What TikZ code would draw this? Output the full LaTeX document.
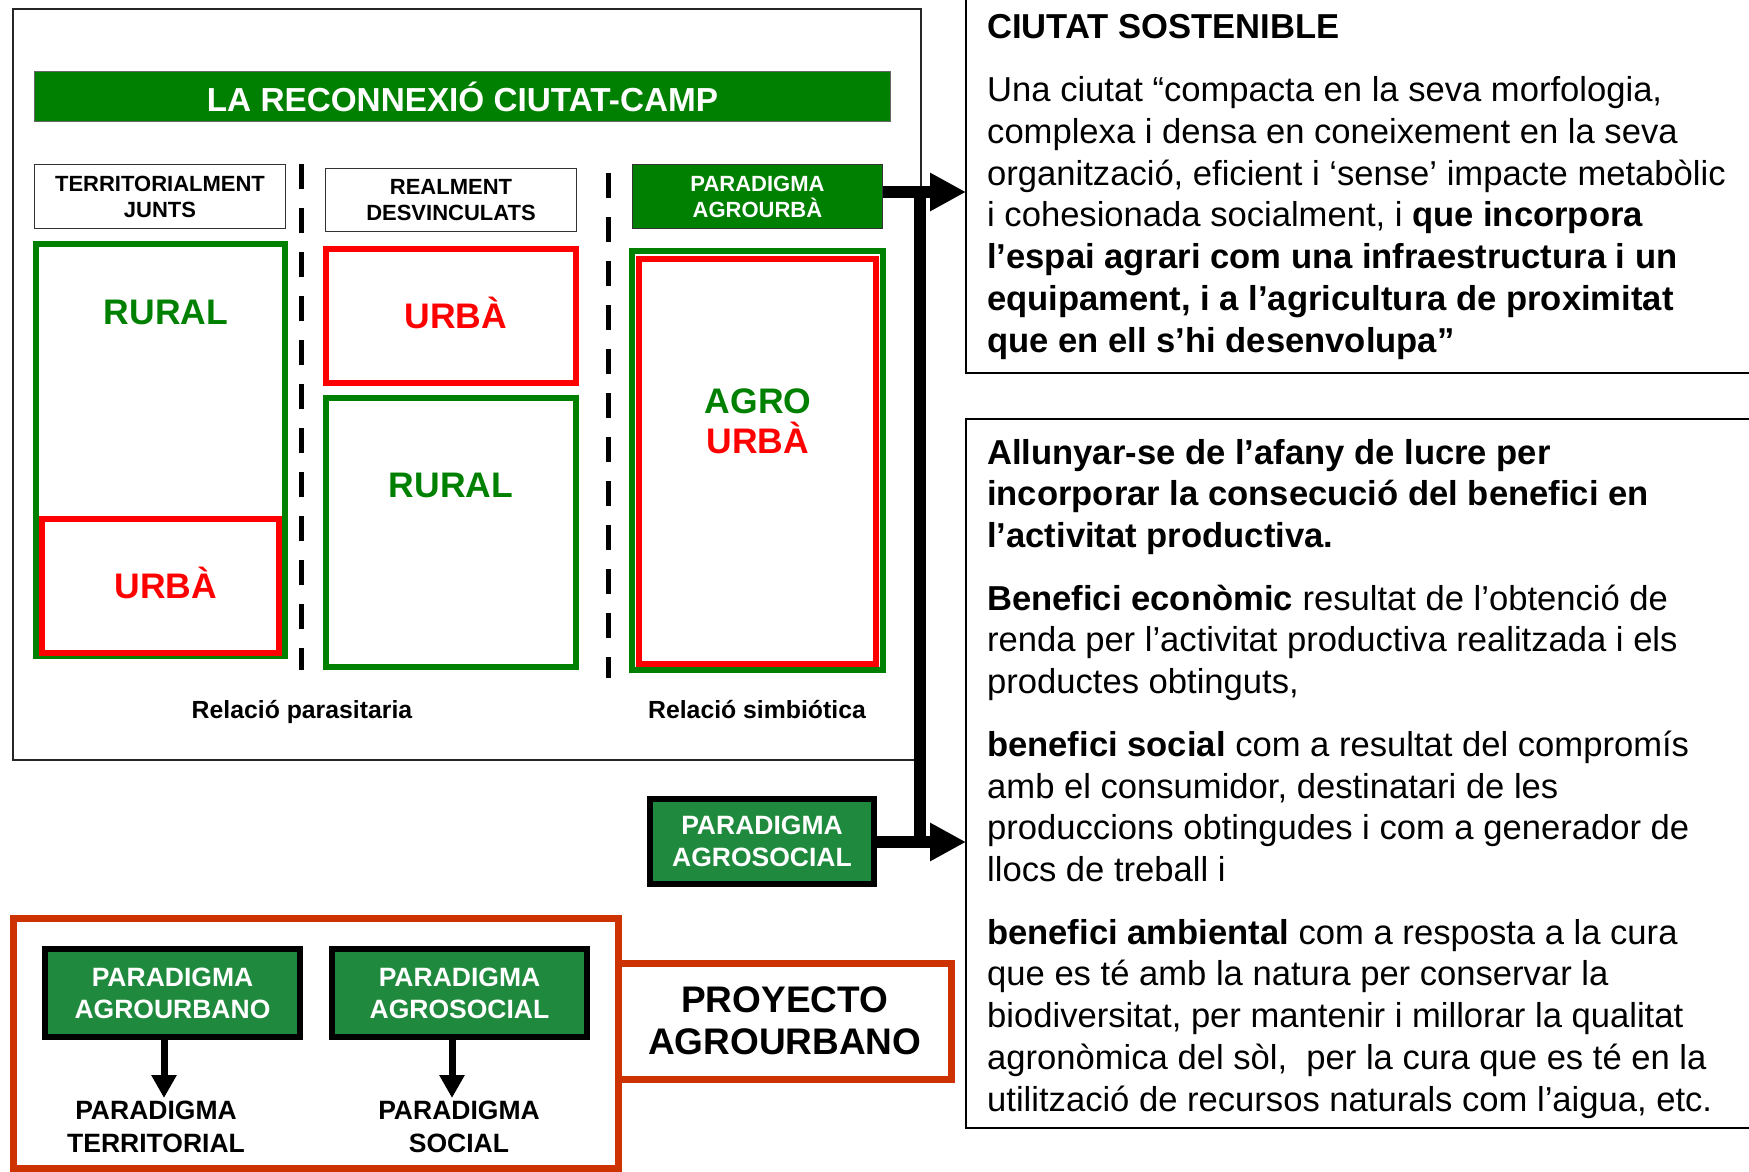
\documentclass[tikz,border=0pt]{standalone}
\usepackage{fontspec}
\setmainfont{Liberation Sans}
\usetikzlibrary{arrows.meta}
\definecolor{tgreen}{RGB}{0,128,0}
\definecolor{pgreen}{RGB}{31,138,61}
\definecolor{ored}{RGB}{204,51,0}
\definecolor{bred}{RGB}{255,0,0}
\newcommand\fsz[2]{\fontsize{#1pt}{#2pt}\selectfont}
\begin{document}
\begin{tikzpicture}[x=1pt,y=-1pt,
  thinbox/.style={draw=black!80, line width=1.5pt, fill=white, inner sep=0pt, align=center, font=\bfseries\fsz{22}{26}},
  greenhead/.style={thinbox, fill=tgreen, text=white},
  gframe/.style={draw=tgreen, line width=6pt, inner sep=0pt},
  rframe/.style={draw=bred, line width=6pt, inner sep=0pt},
  bigword/.style={font=\bfseries\fsz{35.5}{40}, anchor=base, inner sep=0pt},
  relabel/.style={font=\bfseries\fsz{24.8}{28}, anchor=base, inner sep=0pt},
  pbox/.style={fill=pgreen, draw=black, line width=6pt, text=white, inner sep=0pt, align=center, font=\bfseries\fsz{26.5}{32}},
  oframe/.style={draw=ored, line width=7pt, inner sep=0pt},
  plain/.style={font=\bfseries\fsz{26.5}{33}, anchor=base, inner sep=0pt},
  bodytxt/.style={font=\fsz{34.6}{41.8}, anchor=base west, inner sep=0pt},
  textbox/.style={draw=black, line width=2pt, inner sep=0pt},
  conn/.style={draw=black, line width=12pt},
  bigarrow/.style={conn, -{Triangle[length=36pt,width=36pt]}},
  smallarrow/.style={draw=black, line width=7pt, -{Triangle[length=23pt,width=24pt]}},
  dashline/.style={draw=black, line width=5pt, dash pattern=on 25pt off 19pt}]
\useasboundingbox (0,0) rectangle (1749,1172);
\clip (0,0) rectangle (1749,1172);
\fill[white] (0,0) rectangle (1749,1172);

% ---------- left diagram ----------
\node[draw=black!85, line width=2pt, minimum width=908pt, minimum height=750pt, inner sep=0pt] (outer) at (466.5,384.5) {};
\node[fill=tgreen, draw=black!60, line width=1pt, minimum width=856pt, minimum height=50pt, inner sep=0pt, text=white, font=\bfseries\fsz{33.3}{38}] (title) at (462.5,96.5) {LA RECONNEXIÓ CIUTAT-CAMP};

\node[thinbox, minimum width=251pt, minimum height=64pt] (h1) at (160,196.5) {TERRITORIALMENT\\JUNTS};
\node[thinbox, minimum width=251pt, minimum height=63pt] (h2) at (451,200) {REALMENT\\DESVINCULATS};
\node[greenhead, minimum width=250pt, minimum height=64pt] (h3) at (757.5,196.5) {PARADIGMA\\AGROURBÀ};

\draw[dashline] (301,164) -- (301,670);
\draw[dashline] (608,173) -- (608,678);

\node[gframe, minimum width=249pt, minimum height=412pt] (c1g) at (160.5,450) {};
\node[rframe, minimum width=237pt, minimum height=134pt] (c1r) at (160.5,586) {};
\node[bigword, text=tgreen] (w1) at (166,324) {RURAL};
\node[bigword, text=bred] (w2) at (166,598) {URBÀ};

\node[rframe, minimum width=250pt, minimum height=134pt] (c2r) at (451,316) {};
\node[gframe, minimum width=250pt, minimum height=269pt] (c2g) at (451,532.5) {};
\node[bigword, text=bred] (w3) at (456,328) {URBÀ};
\node[bigword, text=tgreen] (w4) at (451,497) {RURAL};

\node[gframe, minimum width=251pt, minimum height=419pt] (c3g) at (757.5,460.5) {};
\node[rframe, minimum width=237pt, minimum height=405pt] (c3r) at (757.5,461.5) {};
\node[bigword, text=tgreen] (w5) at (758,413) {AGRO};
\node[bigword, text=bred] (w6) at (758,453) {URBÀ};

\node[relabel] (l1) at (302,718) {Relació parasitaria};
\node[relabel] (l2) at (757,718) {Relació simbiótica};

% ---------- agrosocial + connectors ----------
\node[pbox, minimum width=224pt, minimum height=85pt] (pA) at (762,841.5) {PARADIGMA\\AGROSOCIAL};

\coordinate (tip1) at (966,192);
\coordinate (tip2) at (966,842);
\coordinate (jtop) at (920,186);
\coordinate (jbot) at (920,848);
\draw[conn] (jtop) -- (jbot);
\draw[bigarrow] (h3.east |- tip1) -- (tip1);
\draw[bigarrow] (pA.east |- tip2) -- (tip2);

% ---------- bottom project ----------
\node[oframe, minimum width=605.5pt, minimum height=250pt] (proj) at (315.75,1043.5) {};
\node[oframe, minimum width=332.5pt, minimum height=116.5pt, align=center, font=\bfseries\fsz{37}{42}] (proyecto) at (784.75,1021.25) {PROYECTO\\AGROURBANO};

\node[pbox, minimum width=255pt, minimum height=88pt] (pb1) at (172.5,993) {PARADIGMA\\AGROURBANO};
\node[pbox, minimum width=255pt, minimum height=88pt] (pb2) at (459.5,993) {PARADIGMA\\AGROSOCIAL};

\node[plain] (pt1) at (156,1119) {\begin{tabular}[t]{@{}c@{}}PARADIGMA\\TERRITORIAL\end{tabular}};
\node[plain] (pt2) at (459,1119) {\begin{tabular}[t]{@{}c@{}}PARADIGMA\\SOCIAL\end{tabular}};

\coordinate (e1) at (164,1098);
\coordinate (e2) at (452,1098);
\draw[smallarrow] (pb1.south -| e1) -- (e1);
\draw[smallarrow] (pb2.south -| e2) -- (e2);

% ---------- right text boxes ----------
\node[textbox, minimum width=794pt, minimum height=383pt] (boxA) at (1363,181.5) {};
\node[textbox, minimum width=794pt, minimum height=709pt] (boxB) at (1363,773.5) {};

\node[bodytxt] (txtA) at (987,39) {\begin{tabular}[t]{@{}l@{}}
\textbf{CIUTAT SOSTENIBLE}\\[20.7pt]
Una ciutat “compacta en la seva morfologia,\\
complexa i densa en coneixement en la seva\\
organització, eficient i ‘sense’ impacte metabòlic\\
i cohesionada socialment, i \textbf{que incorpora}\\
\textbf{l’espai agrari com una infraestructura i un}\\
\textbf{equipament, i a l’agricultura de proximitat}\\
\textbf{que en ell s’hi desenvolupa”}
\end{tabular}};

\node[bodytxt] (txtB) at (987,464) {\begin{tabular}[t]{@{}l@{}}
\textbf{Allunyar-se de l’afany de lucre per}\\
\textbf{incorporar la consecució del benefici en}\\
\textbf{l’activitat productiva.}\\[20.7pt]
\textbf{Benefici econòmic} resultat de l’obtenció de\\
renda per l’activitat productiva realitzada i els\\
productes obtinguts,\\[20.7pt]
\textbf{benefici social} com a resultat del compromís\\
amb el consumidor, destinatari de les\\
produccions obtingudes i com a generador de\\
llocs de treball i\\[20.7pt]
\textbf{benefici ambiental} com a resposta a la cura\\
que es té amb la natura per conservar la\\
biodiversitat, per mantenir i millorar la qualitat\\
agronòmica del sòl, \ per la cura que es té en la\\
utilització de recursos naturals com l’aigua, etc.
\end{tabular}};
\end{tikzpicture}
\end{document}
